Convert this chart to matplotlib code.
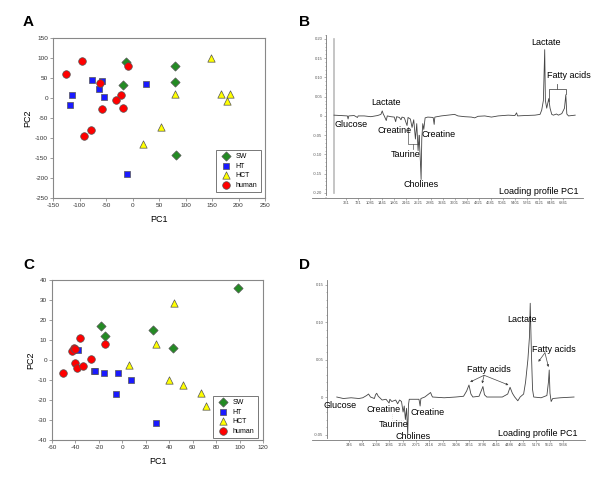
import matplotlib
matplotlib.use("Agg")
import matplotlib.pyplot as plt
from matplotlib.ticker import MultipleLocator, FixedLocator

plt.rcParams["font.family"] = ["Liberation Sans", "DejaVu Sans"]
plt.rcParams["axes.unicode_minus"] = False

W, H = 600, 486
GROUPS = ["SW", "HT", "HCT", "human"]
STYLE = {
    "SW": dict(marker="D", color="#238b23", s=22),
    "HT": dict(marker="s", color="#1a1aff", s=24),
    "HCT": dict(marker="^", color="#ffff00", s=28),
    "human": dict(marker="o", color="#ff0000", s=30),
}

# ---- panel A scores (PC1, PC2) ----
a_sw_x = [-13, 81, 81, -18, 82]
a_sw_y = [90, 79, 41, 33, -143]
a_ht_x = [-76, -58, -64, -54, -115, -117, 25, -10]
a_ht_y = [44, 43, 23, 3, 8, -17, 34, -191]
a_hct_x = [149, 81, 167, 184, 178, 53, 20]
a_hct_y = [101, 9, 9, 9, -8, -72, -116]
a_hum_x = [-126, -96, -8, -61, -21, -32, -57, -17, -79, -92]
a_hum_y = [59, 93, 81, 37, 8, -4, -27, -25, -80, -96]

# ---- panel C scores ----
c_sw_x = [99, -18, -15, 26, 43]
c_sw_y = [36, 17, 11.8, 15.2, 6.2]
c_ht_x = [-38, -24.5, -23, -15.5, -3.5, 7.5, -5.5, 29]
c_ht_y = [5, -5.5, -5.3, -6.3, -6.7, -10, -17.2, -31.7]
c_hct_x = [44, 29, 6, 40, 52, 67, 71]
c_hct_y = [28.3, 7.8, -2.5, -10, -12.7, -16.7, -23]
c_hum_x = [-51, -43, -41.5, -40.5, -36, -15, -27, -40, -38.5, -33.5]
c_hum_y = [-6.3, 4.5, 6, 5.7, 10.8, 7.8, 0.7, -1.3, -3.8, -3.2]

# ---- panel B loading trace (bin index, loading) ----
b_x = [0, 200, 400, 420, 440, 600, 700, 720, 900, 1100, 1300, 1400, 1440, 1470,
       1500, 1560, 1590, 1700, 1800, 1840, 1870, 1950, 2000, 2030, 2100, 2180,
       2210, 2280, 2330, 2380, 2430, 2470, 2510, 2540, 2580, 2600, 2620, 2650,
       2680, 2720, 2800, 2960, 2990, 3010, 3200, 3400, 3600, 3700, 3900, 4100,
       4200, 4300, 4500, 4700, 4900, 5200, 5400, 5450, 5480, 5700, 6000, 6150,
       6200, 6250, 6290, 6310, 6350, 6410, 6450, 6500, 6550, 6640, 6700, 6800,
       6880, 6920, 6950, 7000, 7200]
b_y = [0.002, 0.001, 0.0, -0.008, 0.0, 0.001, -0.004, 0.0, 0.0, -0.002, 0.001,
       0.004, 0.013, 0.005, 0.0, -0.012, 0.0, -0.002, -0.003, -0.015, -0.002,
       -0.004, -0.01, -0.003, -0.005, -0.025, -0.004, -0.008, -0.03, -0.01,
       -0.06, -0.02, -0.09, -0.05, -0.12, -0.165, -0.06, -0.02, -0.035, -0.005,
       -0.003, -0.004, -0.022, -0.003, 0.0, 0.002, 0.004, 0.0, -0.002, -0.003,
       -0.005, -0.001, 0.0, -0.003, 0.0, 0.002, 0.001, 0.008, 0.0, 0.001, 0.002,
       0.004, 0.015, 0.04, 0.172, 0.04, 0.02, 0.045, 0.02, 0.004, 0.002, 0.005,
       0.002, 0.006, 0.02, 0.055, 0.005, 0.0, 0.002]
b_ticks = [361, 721, 1081, 1441, 1801, 2161, 2521, 2881, 3241, 3601, 3961,
           4321, 4681, 5041, 5401, 5761, 6121, 6481, 6841]

# ---- panel D loading trace ----
d_x = [30, 200, 400, 600, 700, 800, 850, 900, 1000, 1030, 1060, 1100, 1200,
       1300, 1380, 1400, 1450, 1550, 1600, 1650, 1700, 1740, 1770, 1800, 1830,
       1860, 1880, 1900, 2000, 2150, 2180, 2200, 2300, 2400, 2450, 2480, 2500,
       2800, 3100, 3300, 3380, 3440, 3490, 3540, 3700, 3770, 3800, 3840, 3900,
       4300, 4440, 4500, 4560, 4620, 4700, 4760, 4850, 4900, 4960, 5000, 5020,
       5050, 5080, 5110, 5300, 5450, 5490, 5510, 5530, 5560, 5600, 5800, 6150]
d_y = [0.0, -0.002, -0.001, -0.002, -0.001, 0.002, 0.004, 0.0, -0.002, 0.003,
       0.005, 0.001, -0.004, -0.003, -0.008, -0.003, -0.006, -0.004, -0.009,
       -0.004, -0.006, -0.02, -0.012, -0.03, -0.015, -0.05, -0.01, -0.003,
       -0.003, -0.003, -0.012, -0.002, 0.0, 0.004, 0.006, 0.002, 0.0, -0.001,
       0.0, 0.001, 0.008, 0.016, 0.004, 0.0, 0.001, 0.01, 0.014, 0.003, 0.0,
       0.0, 0.004, 0.013, 0.005, 0.0, -0.005, 0.0, 0.004, 0.02, 0.05, 0.08,
       0.125, 0.06, 0.01, 0.0, -0.001, 0.002, 0.02, 0.036, 0.005, -0.006,
       -0.002, -0.001, 0.0]
d_ticks = [346, 691, 1036, 1381, 1726, 2071, 2416, 2761, 3106, 3451, 3796,
           4141, 4486, 4831, 5176, 5521, 5866]


def px_axes(fig, left, top, right, bottom):
    return fig.add_axes([left / W, 1 - bottom / H, (right - left) / W, (bottom - top) / H])


def score_panel(ax, xs, ys, xlim, ylim, xstep, ystep, legend_box):
    for g, x, y in zip(GROUPS, xs, ys):
        st = STYLE[g]
        ax.scatter(x, y, marker=st["marker"], s=st["s"], color=st["color"],
                   edgecolor="#555555", linewidth=0.5, label=g, zorder=3)
    ax.set_xlim(*xlim)
    ax.set_ylim(*ylim)
    ax.xaxis.set_major_locator(MultipleLocator(xstep))
    ax.yaxis.set_major_locator(MultipleLocator(ystep))
    ax.tick_params(labelsize=4.6, length=2, width=0.5, color="#777777",
                   labelcolor="#333333", pad=1.5)
    for sp in ax.spines.values():
        sp.set_color("#888888")
        sp.set_linewidth(0.8)
    ax.set_xlabel("PC1", fontsize=6.5, labelpad=5)
    ax.set_ylabel("PC2", fontsize=6.5, labelpad=2)
    leg = ax.legend(loc="lower right", bbox_to_anchor=legend_box, borderaxespad=0,
                    fontsize=5, frameon=True, fancybox=False, edgecolor="#555555",
                    handletextpad=0.4, labelspacing=0.35, borderpad=0.5,
                    scatterpoints=1)
    leg.get_frame().set_linewidth(0.7)


def loading_panel(ax, x, y, ticks, xlim, ylim, spine_x, ymajor, ymin_bound):
    ax.plot(x, y, color="#444444", lw=0.6, zorder=3)
    ax.set_xlim(*xlim)
    ax.set_ylim(*ylim)
    for s in ("top", "right"):
        ax.spines[s].set_visible(False)
    ax.spines["left"].set_position(("data", spine_x))
    ax.spines["left"].set_bounds(ymin_bound, ylim[1])
    for s in ("left", "bottom"):
        ax.spines[s].set_color("#777777")
        ax.spines[s].set_linewidth(0.6)
    ax.xaxis.set_major_locator(FixedLocator(ticks))
    ax.set_xticklabels([str(t) for t in ticks])
    ax.yaxis.set_major_locator(FixedLocator(ymajor))
    ax.set_yticklabels([("0" if v == 0 else "%.2f" % v) for v in ymajor])
    ax.yaxis.set_minor_locator(MultipleLocator(0.01))
    ax.tick_params(which="both", labelsize=3, length=1.5, width=0.4,
                   color="#777777", labelcolor="#555555", pad=1)
    ax.tick_params(which="minor", length=1)


fig = plt.figure(figsize=(6, 4.86), dpi=100)

# A
axA = px_axes(fig, 53, 38, 265, 198)
score_panel(axA, [a_sw_x, a_ht_x, a_hct_x, a_hum_x], [a_sw_y, a_ht_y, a_hct_y, a_hum_y],
            (-150, 250), (-250, 150), 50, 50, (0.981, 0.0375))

# C
axC = px_axes(fig, 52, 280, 263, 440)
score_panel(axC, [c_sw_x, c_ht_x, c_hct_x, c_hum_x], [c_sw_y, c_ht_y, c_hct_y, c_hum_y],
            (-60, 120), (-40, 40), 20, 10, (0.976, 0.0125))

# B
axB = px_axes(fig, 312, 35, 583, 198)
loading_panel(axB, b_x, b_y, b_ticks, (-657, 7433), (-0.213, 0.21), -239,
              [-0.20, -0.15, -0.10, -0.05, 0, 0.05, 0.10, 0.15, 0.20], -0.205)
axB.plot([0, 0], [-0.2, 0.2], color="#bbbbbb", lw=1.2, zorder=2)
fs = 6.5
axB.text(1567, 0.036, "Lactate", fontsize=fs, ha="center", va="center")
axB.text(522, -0.023, "Glucose", fontsize=fs, ha="center", va="center")
axB.text(1821, -0.039, "Creatine", fontsize=fs, ha="center", va="center")
axB.text(3119, -0.049, "Creatine", fontsize=fs, ha="center", va="center")
axB.text(2149, -0.099, "Taurine", fontsize=fs, ha="center", va="center")
axB.text(2612, -0.177, "Cholines", fontsize=fs, ha="center", va="center")
axB.text(6328, 0.19, "Lactate", fontsize=fs, ha="center", va="center")
axB.text(7000, 0.104, "Fatty acids", fontsize=fs, ha="center", va="center")
axB.text(7313, -0.197, "Loading profile PC1", fontsize=fs, ha="right", va="center")
# brackets
axB.plot([2210, 2210, 2540, 2540], [-0.03, -0.073, -0.073, -0.05], color="#555555", lw=0.5)
axB.plot([2360, 2360], [-0.073, -0.085], color="#555555", lw=0.5)
axB.plot([6420, 6420, 6930, 6930], [0.04, 0.07, 0.07, 0.057], color="#555555", lw=0.6)
axB.plot([6670, 6670], [0.07, 0.082], color="#555555", lw=0.6)

# D
axD = px_axes(fig, 312, 280, 585, 440)
loading_panel(axD, d_x, d_y, d_ticks, (-609, 6433), (-0.0573, 0.156), -222,
              [-0.05, 0, 0.05, 0.10, 0.15], -0.055)
axD.text(111, -0.0107, "Glucose", fontsize=fs, ha="center", va="center")
axD.text(1246, -0.0173, "Creatine", fontsize=fs, ha="center", va="center")
axD.text(2365, -0.020, "Creatine", fontsize=fs, ha="center", va="center")
axD.text(1506, -0.036, "Taurine", fontsize=fs, ha="center", va="center")
axD.text(1996, -0.052, "Cholines", fontsize=fs, ha="center", va="center")
axD.text(4807, 0.104, "Lactate", fontsize=fs, ha="center", va="center")
axD.text(3955, 0.0373, "Fatty acids", fontsize=fs, ha="center", va="center")
axD.text(5635, 0.064, "Fatty acids", fontsize=fs, ha="center", va="center")
axD.text(6252, -0.049, "Loading profile PC1", fontsize=fs, ha="right", va="center")
axD.plot([1450, 1450, 1750], [-0.022, -0.030, -0.030], color="#cccccc", lw=0.5, ls=":")
for tx, ty in [(3470, 0.020), (3780, 0.018), (4460, 0.016)]:
    axD.annotate("", xy=(tx, ty), xytext=(3830, 0.029),
                 arrowprops=dict(arrowstyle="-|>", color="#444444", lw=0.5,
                                 mutation_scale=3, shrinkA=0, shrinkB=0))
for tx, ty in [(5230, 0.047), (5490, 0.040)]:
    axD.annotate("", xy=(tx, ty), xytext=(5400, 0.059),
                 arrowprops=dict(arrowstyle="-|>", color="#444444", lw=0.5,
                                 mutation_scale=3, shrinkA=0, shrinkB=0))

# panel letters
for lbl, px, py in [("A", 28, 22), ("B", 304, 22), ("C", 29, 265), ("D", 304, 265)]:
    fig.text(px / W, 1 - py / H, lbl, fontsize=11, fontweight="bold", ha="center", va="center")

fig.savefig("out.png", dpi=100)
